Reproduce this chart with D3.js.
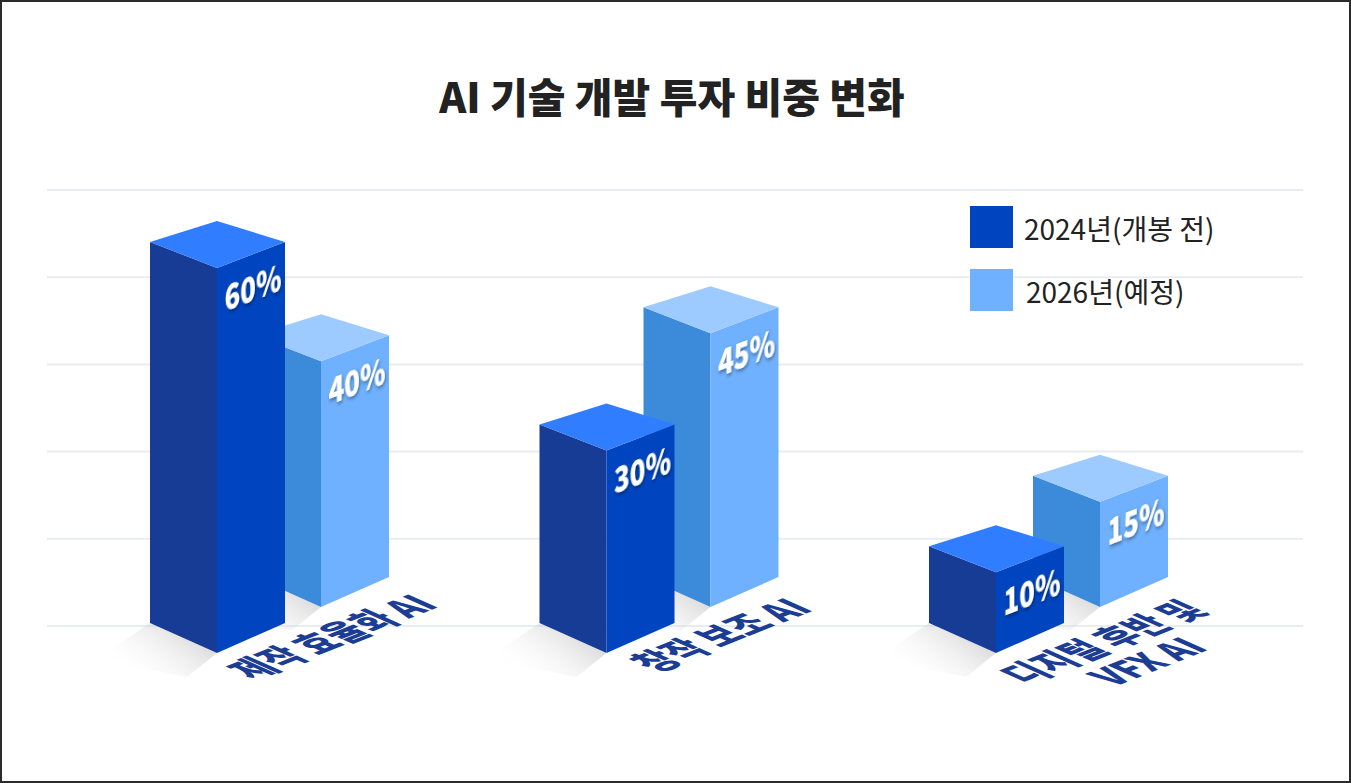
<!DOCTYPE html>
<html><head><meta charset="utf-8">
<script src="https://cdn.jsdelivr.net/npm/d3@7/dist/d3.min.js"></script>
<style>
html,body{margin:0;padding:0;background:#fff;}
svg{display:block;}
</style></head>
<body>
<svg id="chart" width="1351" height="783"></svg>
<script>
// ---- data ----
const chartTitle = "AI 기술 개발 투자 비중 변화";
const categories = [["제작 효율화 AI"], ["창작 보조 AI"], ["디지털 후반 및", "VFX AI"]];
const seriesNames = ["2024년(개봉 전)", "2026년(예정)"];
const values2024 = [60, 30, 10];
const values2026 = [40, 45, 15];
const gridSteps = [0, 1, 2, 3, 4, 5];

// ---- layout ----
const W = 1351, H = 783;
const svg = d3.select("#chart");
const FONT = "'Noto Sans CJK KR','Noto Sans',sans-serif";

const defs = svg.append("defs");
const f = defs.append("filter").attr("id", "ts").attr("x", "-30%").attr("y", "-30%").attr("width", "160%").attr("height", "160%");
f.append("feDropShadow").attr("dx", 1).attr("dy", 2).attr("stdDeviation", 2).attr("flood-color", "#000").attr("flood-opacity", 0.45);
const g1 = defs.append("linearGradient").attr("id", "sh").attr("x1", 1).attr("y1", 0).attr("x2", 0).attr("y2", 0.6);
g1.append("stop").attr("offset", 0).attr("stop-color", "#9a9a9a").attr("stop-opacity", 0.6);
g1.append("stop").attr("offset", 1).attr("stop-color", "#ffffff").attr("stop-opacity", 0);

svg.append("rect").attr("x", 1).attr("y", 1).attr("width", W - 2).attr("height", H - 2)
  .attr("fill", "#fff").attr("stroke", "#2b2b2b").attr("stroke-width", 2);

// gridlines
const yGrid = d3.scaleLinear().domain([0, 5]).range([626, 190]);
svg.append("g").selectAll("line").data(gridSteps).join("line")
  .attr("x1", 47).attr("x2", 1303)
  .attr("y1", d => yGrid(d)).attr("y2", d => yGrid(d))
  .attr("stroke", "#e8edf1").attr("stroke-width", 2);

// title
svg.append("text").attr("x", 672).attr("y", 113).attr("text-anchor", "middle")
  .attr("font-family", FONT).attr("font-weight", 900).attr("font-size", 41)
  .attr("fill", "#222").text(chartTitle);

// scales
const xFront = d3.scalePoint().domain(d3.range(categories.length)).range([217, 996]);
const hFront = d3.scaleLinear().domain([0, 60]).range([20, 385]);
const hBack = d3.scaleLinear().domain([0, 60]).range([21, 358]);

const series = [
  {name: seriesNames[1], vals: values2026, dx: 104, base: 607, h: hBack,
   colors: {left: "#3c8bdb", front: "#6fb1ff", top: "#9ecbff"}},
  {name: seriesNames[0], vals: values2024, dx: 0, base: 653, h: hFront,
   colors: {left: "#173c96", front: "#0045bf", top: "#307dff"}}
];

const LW = 67, RW = 68, SD = 26, BD = 47, BOT = 30;
const pts = a => a.map(p => p.join(",")).join(" ");

const boxes = svg.append("g");
series.forEach(s => {
  s.vals.forEach((v, i) => {
    const xf = xFront(i) + s.dx, yb = s.base, ht = s.h(v), yt = yb - ht;
    const g = boxes.append("g");
    g.append("polygon").attr("points", pts([[xf - LW, yb - BOT], [xf, yb], [xf - 30, yb + 24], [xf - 120, yb + 6]]))
      .attr("fill", "url(#sh)");
    g.append("polygon").attr("points", pts([[xf - LW, yb - BOT], [xf, yb], [xf, yt], [xf - LW, yt - SD]]))
      .attr("fill", s.colors.left);
    g.append("polygon").attr("points", pts([[xf, yb], [xf + RW, yb - BOT], [xf + RW, yt - SD], [xf, yt]]))
      .attr("fill", s.colors.front);
    g.append("polygon").attr("points", pts([[xf - LW, yt - SD], [xf, yt - BD], [xf + RW, yt - SD], [xf, yt]]))
      .attr("fill", s.colors.top);
    g.append("text")
      .attr("transform", `translate(${xf + 36},${yt + 17}) skewY(-21) scale(0.72,1)`)
      .attr("text-anchor", "middle").attr("dominant-baseline", "central")
      .attr("font-family", FONT).attr("font-weight", 900).attr("font-size", 36)
      .attr("fill", "#fff").attr("filter", "url(#ts)").text(v + "%");
  });
});

// category labels lying on the floor
const labG = svg.append("g");
const FM = [0.93, -0.37, 1.19, 0.53]; // floor projection matrix
const labelPos = [[113, 636], [112, 634], [105, 641]];
categories.forEach((lines, i) => {
  const xf = xFront(i);
  const t = labG.append("g")
    .attr("transform", `translate(${xf + labelPos[i][0]},${labelPos[i][1]}) matrix(${FM.join(",")},0,0)`);
  lines.forEach((ln, k) => {
    t.append("text").attr("x", 0).attr("y", k * 37)
      .attr("text-anchor", "middle").attr("dominant-baseline", "central")
      .attr("font-family", FONT).attr("font-weight", 900).attr("font-size", 33)
      .attr("fill", "#1c3d94").text(ln);
  });
});

// legend
const legend = svg.append("g");
const legendColors = ["#0045bf", "#6fb1ff"];
seriesNames.forEach((n, i) => {
  legend.append("rect").attr("x", 970).attr("y", 206 + i * 63).attr("width", 43).attr("height", 42)
    .attr("fill", legendColors[i]);
  legend.append("text").attr("x", 1024 + i * 2).attr("y", 228 + i * 63).attr("dominant-baseline", "central")
    .attr("font-family", FONT).attr("font-weight", 400).attr("font-size", 28)
    .attr("fill", "#222").text(n);
});
</script>
</body></html>
